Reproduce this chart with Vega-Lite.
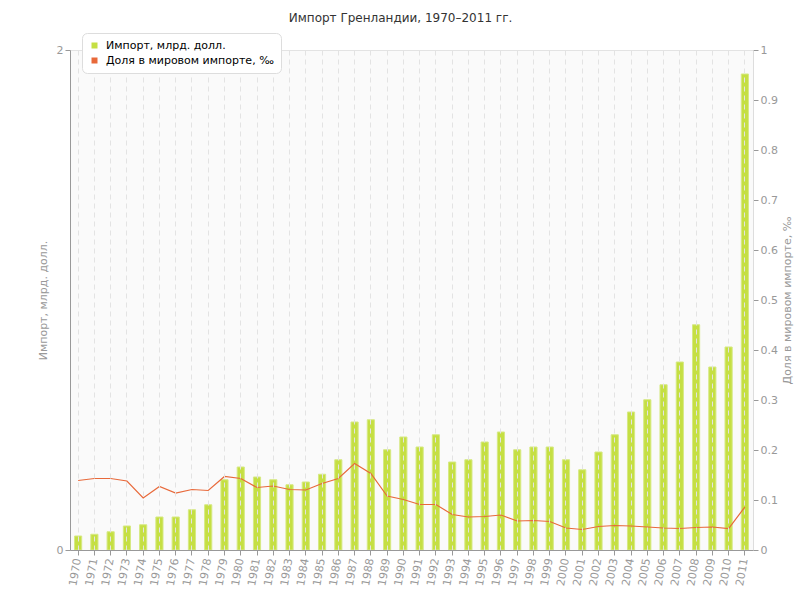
{
  "$schema": "https://vega.github.io/schema/vega-lite/v6.json",
  "width": 683,
  "height": 500,
  "autosize": "none",
  "padding": {"left": 70, "top": 50, "right": 47, "bottom": 50},
  "background": "white",
  "title": {"text": "Импорт Гренландии, 1970–2011 гг.", "font": "DejaVu Sans", "fontSize": 12, "fontWeight": "normal", "color": "#333333", "anchor": "middle", "dx": -11, "offset": 8},
  "config": {"view": {"fill": "#fafafa", "stroke": "#e3e3e3"}, "font": "DejaVu Sans"},
  "data": {"values": [
    {"year": "1970", "imp": 0.056, "share": 0.139},
    {"year": "1971", "imp": 0.063, "share": 0.143},
    {"year": "1972", "imp": 0.073, "share": 0.143},
    {"year": "1973", "imp": 0.096, "share": 0.138},
    {"year": "1974", "imp": 0.101, "share": 0.104},
    {"year": "1975", "imp": 0.132, "share": 0.127},
    {"year": "1976", "imp": 0.132, "share": 0.114},
    {"year": "1977", "imp": 0.161, "share": 0.121},
    {"year": "1978", "imp": 0.181, "share": 0.119},
    {"year": "1979", "imp": 0.281, "share": 0.147},
    {"year": "1980", "imp": 0.332, "share": 0.143},
    {"year": "1981", "imp": 0.292, "share": 0.125},
    {"year": "1982", "imp": 0.281, "share": 0.128},
    {"year": "1983", "imp": 0.261, "share": 0.121},
    {"year": "1984", "imp": 0.272, "share": 0.120},
    {"year": "1985", "imp": 0.303, "share": 0.133},
    {"year": "1986", "imp": 0.361, "share": 0.143},
    {"year": "1987", "imp": 0.512, "share": 0.173},
    {"year": "1988", "imp": 0.521, "share": 0.153},
    {"year": "1989", "imp": 0.401, "share": 0.108},
    {"year": "1990", "imp": 0.452, "share": 0.101},
    {"year": "1991", "imp": 0.412, "share": 0.091},
    {"year": "1992", "imp": 0.461, "share": 0.091},
    {"year": "1993", "imp": 0.352, "share": 0.071},
    {"year": "1994", "imp": 0.361, "share": 0.066},
    {"year": "1995", "imp": 0.432, "share": 0.067},
    {"year": "1996", "imp": 0.472, "share": 0.070},
    {"year": "1997", "imp": 0.401, "share": 0.058},
    {"year": "1998", "imp": 0.412, "share": 0.059},
    {"year": "1999", "imp": 0.412, "share": 0.057},
    {"year": "2000", "imp": 0.361, "share": 0.044},
    {"year": "2001", "imp": 0.321, "share": 0.041},
    {"year": "2002", "imp": 0.392, "share": 0.047},
    {"year": "2003", "imp": 0.461, "share": 0.049},
    {"year": "2004", "imp": 0.552, "share": 0.048},
    {"year": "2005", "imp": 0.601, "share": 0.046},
    {"year": "2006", "imp": 0.661, "share": 0.044},
    {"year": "2007", "imp": 0.752, "share": 0.043},
    {"year": "2008", "imp": 0.901, "share": 0.045},
    {"year": "2009", "imp": 0.732, "share": 0.046},
    {"year": "2010", "imp": 0.812, "share": 0.043},
    {"year": "2011", "imp": 1.904, "share": 0.086}
  ]},
  "encoding": {
    "x": {
      "field": "year", "type": "ordinal",
      "scale": {"type": "band", "paddingInner": 0.56, "paddingOuter": 0.28},
      "axis": {"title": null, "labelAngle": -80, "labelAlign": "right", "labelBaseline": "middle", "labelColor": "#999999", "labelFontSize": 11, "labelFont": "DejaVu Sans", "tickColor": "#999999", "domainColor": "#999999", "tickSize": 5, "grid": true, "gridColor": "#e3e3e3", "gridDash": [5, 4], "bandPosition": 0.5, "zindex": 1, "labelPadding": 3}
    }
  },
  "layer": [
    {
      "mark": {"type": "bar", "stroke": "#d6e983", "strokeWidth": 1},
      "encoding": {
        "y": {
          "field": "imp", "type": "quantitative",
          "scale": {"domain": [0, 2]},
          "axis": {"title": "Импорт, млрд. долл.", "titleFont": "DejaVu Sans", "titleFontSize": 11, "titleFontWeight": "normal", "titleColor": "#999999", "values": [0, 0.2, 0.4, 0.6, 0.8, 1, 1.2, 1.4, 1.6, 1.8, 2], "format": "d", "labelExpr": "datum.value % 1 === 0 ? datum.label : ''", "labelColor": "#999999", "labelFontSize": 11, "tickColor": "#999999", "domainColor": "#999999", "tickSize": 5, "grid": true, "gridColor": "#e3e3e3", "gridDash": [5, 4], "zindex": 1, "titlePadding": 8}
        },
        "color": {
          "datum": "Импорт, млрд. долл.",
          "scale": {"domain": ["Импорт, млрд. долл.", "Доля в мировом импорте, ‰"], "range": ["#c5df43", "#e8693a"]},
          "legend": {"title": null, "orient": "none", "legendX": 12, "legendY": -17, "fillColor": "white", "strokeColor": "#dddddd", "cornerRadius": 5, "padding": 7, "symbolType": "square", "symbolSize": 36, "symbolStrokeWidth": 0, "labelFont": "DejaVu Sans", "labelFontSize": 11, "labelColor": "#000000", "labelLimit": 400, "rowPadding": 3, "labelOffset": 6, "zindex": 2,
            "encode": {"symbols": {"update": {"fill": {"scale": "color", "field": "value"}, "stroke": {"value": "transparent"}}}}}
        }
      }
    },
    {
      "mark": {"type": "line", "strokeWidth": 1.2},
      "encoding": {
        "y": {
          "field": "share", "type": "quantitative",
          "scale": {"domain": [0, 1]},
          "axis": {"orient": "right", "title": "Доля в мировом импорте, ‰", "titleAngle": 270, "titleAlign": "center", "titleBaseline": "middle", "titleX": 34, "titleY": 250, "titleFont": "DejaVu Sans", "titleFontSize": 11, "titleFontWeight": "normal", "titleColor": "#999999", "values": [0, 0.1, 0.2, 0.3, 0.4, 0.5, 0.6, 0.7, 0.8, 0.9, 1], "format": "~g", "labelColor": "#999999", "labelFontSize": 11, "tickColor": "#999999", "domainColor": "#dddddd", "tickSize": 5, "grid": false}
        },
        "color": {"datum": "Доля в мировом импорте, ‰"}
      }
    }
  ],
  "resolve": {"scale": {"y": "independent"}}
}
